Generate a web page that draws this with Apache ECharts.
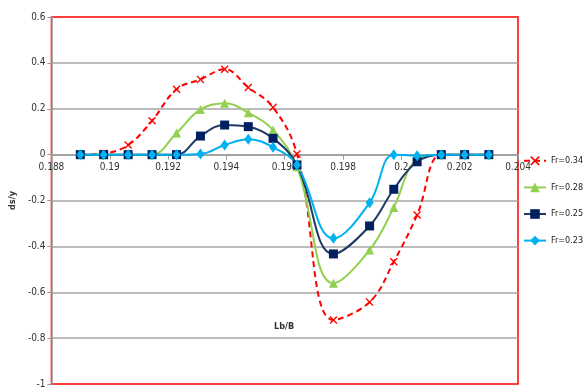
<!DOCTYPE html>
<html>
<head>
<meta charset="utf-8">
<script src="https://cdn.jsdelivr.net/npm/echarts@6/dist/echarts.min.js"></script>
<style>html,body{margin:0;padding:0;background:#fff}#c{width:584px;height:390px}</style>
</head>
<body>
<div id="c"></div>
<script>
const xValues = [0.18899, 0.18979, 0.19063, 0.19145, 0.19229, 0.19311, 0.19394, 0.19475, 0.19560, 0.19642, 0.19767, 0.19891, 0.19974, 0.20054, 0.20137, 0.20217, 0.20300];
const fr034 = [0, 0.005, 0.042, 0.148, 0.285, 0.328, 0.372, 0.293, 0.206, 0.003, -0.721, -0.643, -0.467, -0.263, 0, 0, 0];
const fr028 = [0, 0, 0, 0, 0.094, 0.197, 0.224, 0.183, 0.107, -0.053, -0.561, -0.416, -0.230, -0.02, 0, 0, 0];
const fr025 = [0, 0, 0, 0, 0, 0.081, 0.129, 0.122, 0.071, -0.045, -0.433, -0.311, -0.151, -0.031, 0, 0, 0];
const fr023 = [0, 0, 0, 0, 0, 0.003, 0.042, 0.067, 0.032, -0.045, -0.365, -0.21, 0.0, -0.005, 0, 0, 0];
const seriesNames = ['Fr=0.34', 'Fr=0.28', 'Fr=0.25', 'Fr=0.23'];
const xTitle = 'Lb/B';
const yTitle = 'ds/y';
const yMin = -1, yMax = 0.6;

const FONT = '"Liberation Sans Narrow", "DejaVu Sans Condensed", "Liberation Sans", sans-serif';
const pairs = arr => xValues.map((x, i) => [x, arr[i]]);
const crossPath = 'path://M0,1.2 L1.2,0 L5,3.8 L8.8,0 L10,1.2 L6.2,5 L10,8.8 L8.8,10 L5,6.2 L1.2,10 L0,8.8 L3.8,5 Z';

const gridTop = 17, gridBottom = 6, H = 390;
const gridH = H - gridTop - gridBottom;
// place the x axis on the y=0 line
const zeroOffset = -gridH * (0 - yMin) / (yMax - yMin);

const chart = echarts.init(document.getElementById('c'), null, {renderer: 'canvas'});
chart.setOption({
  animation: false,
  backgroundColor: '#fff',
  grid: {left: 37, top: gridTop, right: 66, bottom: gridBottom, show: true, borderColor: '#ff0000', borderWidth: 1.5, containLabel: false},
  legend: {
    orient: 'vertical', left: 523, top: 156, padding: 0, itemWidth: 22, itemHeight: 12, itemGap: 17,
    textStyle: {fontFamily: FONT, fontSize: 9, color: '#222'},
    data: seriesNames
  },
  xAxis: {
    type: 'value', min: 0.188, max: 0.204, interval: 0.002,
    offset: zeroOffset,
    axisLine: {onZero: false, lineStyle: {color: '#9a9a9a', width: 1.5}},
    axisTick: {show: true, length: 5, lineStyle: {color: '#9a9a9a'}},
    axisLabel: {fontFamily: FONT, fontSize: 10, color: '#333', margin: 8},
    splitLine: {show: false}
  },
  yAxis: {
    type: 'value', min: yMin, max: yMax, interval: 0.2,
    name: yTitle, nameLocation: 'middle', nameGap: 22, nameRotate: 90,
    nameTextStyle: {fontFamily: FONT, fontSize: 9, fontWeight: 'bold', color: '#333'},
    axisLine: {show: true, onZero: false, lineStyle: {color: '#9a9a9a', width: 1.5}},
    axisTick: {show: true, length: 4, lineStyle: {color: '#9a9a9a'}},
    axisLabel: {fontFamily: FONT, fontSize: 10, color: '#333', margin: 6},
    splitLine: {show: true, showMinLine: false, showMaxLine: false, lineStyle: {color: '#a6a6a6', width: 1.5}}
  },
  graphic: [{
    type: 'text', left: 274, top: 322,
    style: {text: xTitle, font: 'bold 9px ' + FONT, fill: '#333'}
  }],
  series: [
    {name: seriesNames[0], type: 'line', data: pairs(fr034), smooth: 0.4,
     symbol: crossPath, symbolSize: 8,
     lineStyle: {color: '#ff0000', width: 2, type: [6, 4]}, itemStyle: {color: '#ff0000'}},
    {name: seriesNames[1], type: 'line', data: pairs(fr028), smooth: 0.4,
     symbol: 'triangle', symbolSize: 9,
     lineStyle: {color: '#92d050', width: 2}, itemStyle: {color: '#92d050'}},
    {name: seriesNames[2], type: 'line', data: pairs(fr025), smooth: 0.4,
     symbol: 'rect', symbolSize: 9,
     lineStyle: {color: '#1f3864', width: 2}, itemStyle: {color: '#002060'}},
    {name: seriesNames[3], type: 'line', data: pairs(fr023), smooth: 0.4,
     symbol: 'diamond', symbolSize: [8, 11],
     lineStyle: {color: '#00b0f0', width: 2}, itemStyle: {color: '#00b0f0'}}
  ]
});
</script>
</body>
</html>
